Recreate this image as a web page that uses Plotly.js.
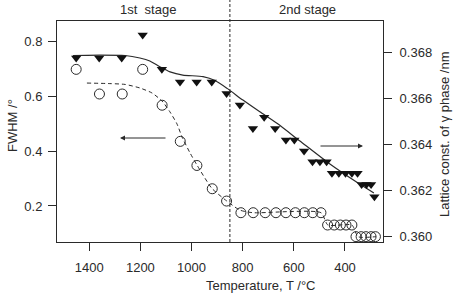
<!DOCTYPE html>
<html>
<head>
<meta charset="utf-8">
<script src="https://cdn.plot.ly/plotly-3.0.1.min.js"></script>
<style>html,body{margin:0;padding:0;background:#fff;}#chart{width:456px;height:296px;}</style>
</head>
<body>
<div id="chart"></div>
<script>
// FWHM (left axis), open circles
const fwhmTemp = [1451,1360,1271,1191,1115,1044,979,919,863,807,759,712,670,631,594,559,526,494,468,442,418,396,373,357,337,318,298,281];
const fwhmVal  = [0.699,0.609,0.609,0.699,0.568,0.436,0.348,0.263,0.218,0.1755,0.1755,0.1755,0.1755,0.1755,0.1755,0.1755,0.1755,0.1755,0.1305,0.1305,0.1305,0.1305,0.1305,0.088,0.088,0.088,0.088,0.088];
// Lattice constant (right axis), filled down-triangles
const latTemp = [1451,1361,1273,1191,1116,1045,980,921,863,811,760,716,673,631,598,560,527,498,472,451,424,398,373,351,335,316,298,285];
const latVal  = [0.36777,0.36777,0.36777,0.36877,0.36728,0.36673,0.36673,0.36673,0.36623,0.36573,0.36471,0.36520,0.36471,0.36420,0.36420,0.36373,0.36326,0.36326,0.36326,0.36276,0.36276,0.36276,0.36276,0.36276,0.36227,0.36227,0.36227,0.36174];
// Guide curves
const fwhmFitTemp = [1409,1319,1260,1202,1155,1116,1084,1057,1037,1006,979,921,862,811,760,494,467,373,349,279];
const fwhmFitVal  = [0.649,0.647,0.644,0.631,0.613,0.584,0.543,0.500,0.452,0.394,0.350,0.265,0.218,0.185,0.1755,0.1755,0.1306,0.1306,0.088,0.088];
const latFitTemp = [1464,1358,1260,1202,1163,1124,1084,1034,955,908,861,799,733,666,576,459,361,287];
const latFitVal  = [0.36788,0.36790,0.36788,0.36777,0.36764,0.36739,0.36717,0.36703,0.36696,0.36679,0.36645,0.36594,0.36543,0.36493,0.36416,0.36316,0.36242,0.36190];
const xTicks = [1400,1200,1000,800,600,400];
const yTicks = [0.2,0.4,0.6,0.8];
const y2Ticks = [0.360,0.362,0.364,0.366,0.368];
const stageBoundary = 850;

const ink = '#2a2a2a';
const font = {family:'Liberation Sans, Arial, sans-serif', size:13, color:ink};

const traces = [
  {x:fwhmFitTemp, y:fwhmFitVal, mode:'lines', line:{color:ink, width:1, dash:'4px,3px', shape:'spline', smoothing:0.6}, hoverinfo:'skip', showlegend:false},
  {x:latFitTemp, y:latFitVal, yaxis:'y2', mode:'lines', line:{color:ink, width:1.2, shape:'spline', smoothing:0.6}, hoverinfo:'skip', showlegend:false},
  {x:fwhmTemp, y:fwhmVal, mode:'markers', marker:{symbol:'circle-open', size:10, color:ink, line:{width:1, color:ink}}, showlegend:false},
  {x:latTemp, y:latVal, yaxis:'y2', mode:'markers', marker:{symbol:'triangle-down', size:9, color:'#111'}, showlegend:false}
];

const layout = {
  width:456, height:296,
  margin:{l:57, r:73, t:21, b:54},
  paper_bgcolor:'#fff', plot_bgcolor:'#fff',
  font:font,
  showlegend:false,
  xaxis:{range:[1526,251.4], tickvals:xTicks, ticks:'outside', ticklen:8, tickcolor:ink, tickwidth:1,
         showline:true, linecolor:ink, linewidth:1, mirror:true, showgrid:false, zeroline:false,
         ticklabelstandoff:5, tickfont:font},
  yaxis:{range:[0.0685,0.8756], tickvals:yTicks, ticktext:yTicks.map(v=>v.toFixed(1)), ticks:'outside', ticklen:8, tickcolor:ink, tickwidth:1,
         showline:true, linecolor:ink, linewidth:1, showgrid:false, zeroline:false, ticklabelstandoff:3, tickfont:font},
  yaxis2:{range:[0.35977,0.36938], overlaying:'y', side:'right', tickvals:y2Ticks, ticktext:y2Ticks.map(v=>v.toFixed(3)),
          ticks:'outside', ticklen:8, tickcolor:ink, tickwidth:1, showline:true, linecolor:ink, linewidth:1,
          showgrid:false, zeroline:false, ticklabelstandoff:5, tickfont:font},
  shapes:[
    {type:'line', xref:'x', yref:'paper', x0:stageBoundary, x1:stageBoundary, y0:0, y1:1.095, line:{color:ink, width:1, dash:'3px,2px'}}
  ],
  annotations:[
    {text:'1st  stage', xref:'paper', yref:'paper', x:(147.5-57)/326, y:1+(21-10)/221, showarrow:false, font:font, xanchor:'center', yanchor:'middle'},
    {text:'2nd stage', xref:'paper', yref:'paper', x:(307-57)/326, y:1+(21-10)/221, showarrow:false, font:font, xanchor:'center', yanchor:'middle'},
    {text:'Temperature, T /°C', xref:'paper', yref:'paper', x:(260-57)/326, y:-(285-242)/221, showarrow:false, font:font, xanchor:'center', yanchor:'middle'},
    {text:'FWHM /°', xref:'paper', yref:'paper', x:-(57-12)/326, y:(242-126)/221, showarrow:false, font:font, textangle:-90, xanchor:'center', yanchor:'middle'},
    {text:'Lattice const. of γ phase /nm', xref:'paper', yref:'paper', x:1+(444-383)/326, y:(242-135)/221, showarrow:false, font:font, textangle:-90, xanchor:'center', yanchor:'middle'},
    {text:'', xref:'paper', yref:'paper', x:(120-57)/326, y:(242-138)/221, ax:47, ay:0, showarrow:true, arrowhead:2, arrowsize:1, arrowwidth:1, arrowcolor:ink},
    {text:'', xref:'paper', yref:'paper', x:(363-57)/326, y:(242-146)/221, ax:-44, ay:0, showarrow:true, arrowhead:2, arrowsize:1, arrowwidth:1, arrowcolor:ink}
  ]
};

Plotly.newPlot('chart', traces, layout, {displayModeBar:false, staticPlot:true});
</script>
</body>
</html>
